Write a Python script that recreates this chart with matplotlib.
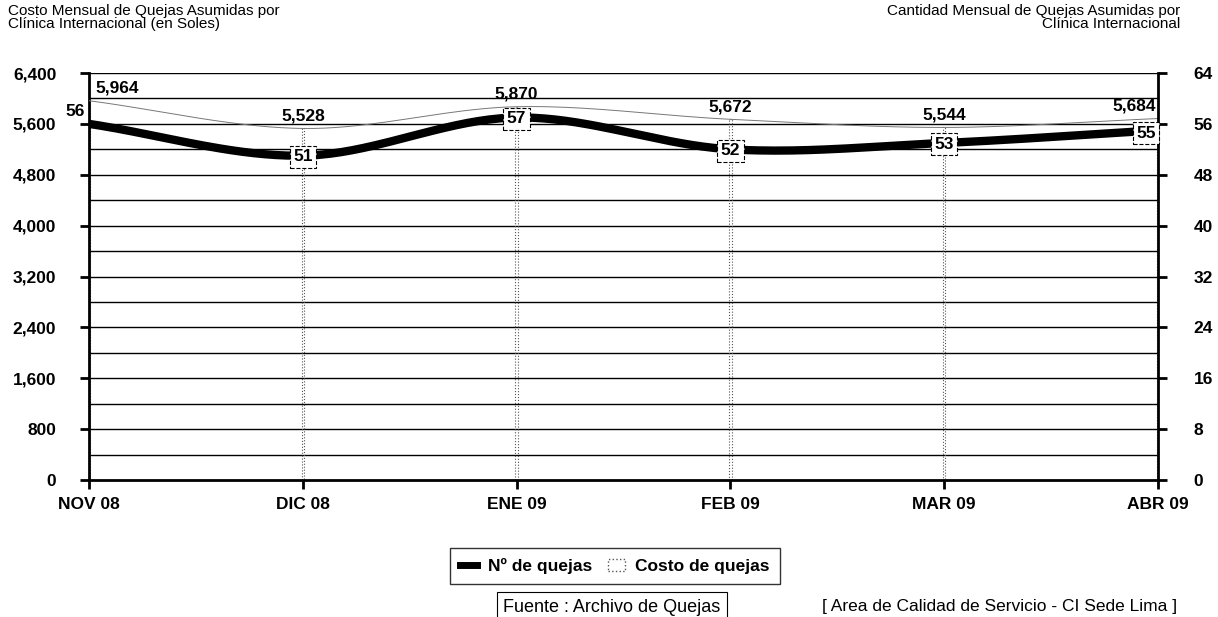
import matplotlib.pyplot as plt
import numpy as np
from matplotlib.lines import Line2D
from matplotlib.patches import Patch

MONTHS = ["NOV 08", "DIC 08", "ENE 09", "FEB 09", "MAR 09", "ABR 09"]
COSTO = [5964, 5528, 5870, 5672, 5544, 5684]
QUEJAS = [56, 51, 57, 52, 53, 55]

plt.rcParams["font.family"] = ["Liberation Sans", "DejaVu Sans"]


def smooth(x, y, n=40):
    # Catmull-Rom curve through the points
    x = np.asarray(x, float)
    y = np.asarray(y, float)
    px = np.concatenate([[2 * x[0] - x[1]], x, [2 * x[-1] - x[-2]]])
    py = np.concatenate([[2 * y[0] - y[1]], y, [2 * y[-1] - y[-2]]])
    xs, ys = [], []
    t = np.linspace(0, 1, n)
    for i in range(1, len(px) - 2):
        for p, out in ((px, xs), (py, ys)):
            p0, p1, p2, p3 = p[i - 1], p[i], p[i + 1], p[i + 2]
            out.extend(0.5 * (2 * p1 + (-p0 + p2) * t + (2 * p0 - 5 * p1 + 4 * p2 - p3) * t ** 2
                              + (-p0 + 3 * p1 - 3 * p2 + p3) * t ** 3))
    return np.array(xs), np.array(ys)


fig = plt.figure(figsize=(12.18, 6.17), dpi=100)
ax = fig.add_axes([89 / 1218, 1 - 480 / 617, (1158 - 89) / 1218, (480 - 73) / 617])
ax2 = ax.twinx()

x = np.arange(len(MONTHS))

# grid every 400 soles
for v in range(400, 6401, 400):
    ax.axhline(v, color="black", lw=1.0, zorder=1)

# cost: thin dotted columns plus a fine curve
ax.bar(x, COSTO, width=0.012, fill=False, edgecolor="#555555", linestyle=":", lw=0.8, zorder=2)
cx, cy = smooth(x, COSTO)
ax.plot(cx, cy, color="#777777", lw=0.7, zorder=3)
for xi, c in zip(x, COSTO):
    ha = "center"
    dx = 0
    if xi == 0:
        ha, dx = "left", 0.03
    elif xi == len(x) - 1:
        ha, dx = "right", -0.01
    ax.text(xi + dx, c + 80, f"{c:,}", ha=ha, va="bottom", fontsize=12.5, fontweight="bold", zorder=6)

ax.set_xlim(0, 5)
ax.set_ylim(0, 6400)
ax.set_yticks(range(0, 6401, 800))
ax.set_yticklabels([f"{v:,}" for v in range(0, 6401, 800)], fontsize=12.5, fontweight="bold")
ax.set_xticks(x)
ax.set_xticklabels(MONTHS, fontsize=12.5, fontweight="bold")

# number of complaints on the right axis
qx, qy = smooth(x, QUEJAS)
ax2.plot(qx, qy, color="black", lw=6, solid_capstyle="butt", zorder=4)
ax2.set_ylim(0, 64)
ax2.set_yticks(range(0, 65, 8))
ax2.set_yticklabels([str(v) for v in range(0, 65, 8)], fontsize=12.5, fontweight="bold")
for xi, q in zip(x, QUEJAS):
    box = dict(boxstyle="square,pad=0.2", fc="white", ec="black", lw=0.8, ls="--")
    if xi == 0:
        ax2.text(xi - 0.02, q + 0.8, str(q), ha="right", va="bottom", fontsize=12.5,
                 fontweight="bold", clip_on=False, zorder=7)
    elif xi == len(x) - 1:
        ax2.text(xi - 0.01, q - 0.5, str(q), ha="right", va="center", fontsize=12.5,
                 fontweight="bold", bbox=box, zorder=7)
    else:
        ax2.text(xi, q - 0.2, str(q), ha="center", va="center", fontsize=12.5,
                 fontweight="bold", bbox=box, zorder=7)

for a in (ax, ax2):
    for s in a.spines.values():
        s.set_visible(False)
ax.spines["left"].set_visible(True)
ax.spines["left"].set_linewidth(2)
ax.spines["bottom"].set_visible(True)
ax.spines["bottom"].set_linewidth(2)
ax2.spines["right"].set_visible(True)
ax2.spines["right"].set_linewidth(2)
ax.tick_params(axis="y", length=6.5, width=2, direction="out", pad=17)
ax.tick_params(axis="x", length=6.5, width=2, direction="out", pad=6)
ax2.tick_params(axis="y", length=6.5, width=2, direction="out", pad=19)

fig.text(8 / 1218, 1 - 4 / 617, "Costo Mensual de Quejas Asumidas por\nClínica Internacional (en Soles)",
         ha="left", va="top", fontsize=11, linespacing=0.95)
fig.text(1180 / 1218, 1 - 4 / 617, "Cantidad Mensual de Quejas Asumidas por\nClínica Internacional",
         ha="right", va="top", fontsize=11, linespacing=0.95, multialignment="right")

# legend
handles = [Line2D([], [], color="black", lw=5),
           Patch(facecolor="white", edgecolor="#555555", linestyle=":")]
fig.legend(handles, ["Nº de quejas", "Costo de quejas"], loc="center",
           bbox_to_anchor=(615 / 1218, 1 - 566 / 617), ncol=2, frameon=True, fancybox=False,
           edgecolor="black", prop={"weight": "bold", "size": 12.5}, handlelength=1.0,
           columnspacing=0.9, handletextpad=0.6, borderpad=0.6)

fig.text(612 / 1218, 1 - 607 / 617, "Fuente : Archivo de Quejas", ha="center", va="center",
         fontsize=13, bbox=dict(boxstyle="square,pad=0.35", fc="white", ec="black", lw=0.8))
fig.text(1000 / 1218, 1 - 606 / 617, "[ Area de Calidad de Servicio - CI Sede Lima ]",
         ha="center", va="center", fontsize=12.5)

fig.savefig("out.png", dpi=100)
